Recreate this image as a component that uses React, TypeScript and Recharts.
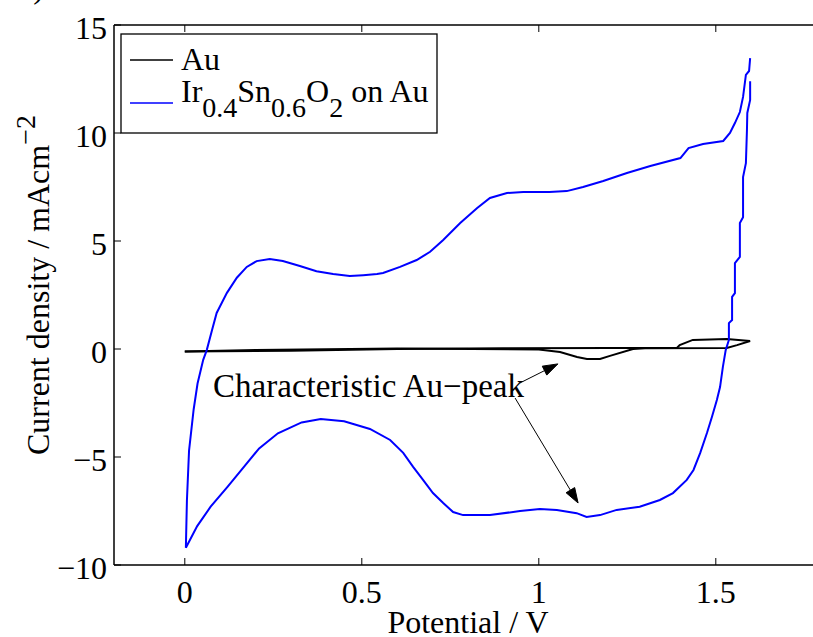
// @ts-nocheck
import React from 'react';
import {
  ComposedChart,
  Line,
  XAxis,
  YAxis,
  ReferenceLine,
  ReferenceDot,
  Customized,
} from 'recharts';

// Au (bare gold) – forward and reverse scan
const auFwdV = [0, 0.3, 0.6, 0.9, 1.2, 1.39, 1.398, 1.435, 1.531, 1.597];
const auFwdJ = [-0.12, -0.08, 0.0, 0.03, 0.05, 0.05, 0.18, 0.42, 0.46, 0.37];
const auRevV = [1.597, 1.56, 1.531, 1.3, 1.266, 1.201, 1.173, 1.136, 1.108, 1.06, 1.0, 0.6, 0.2, 0.0];
const auRevJ = [0.37, 0.18, 0.05, 0.03, 0.0, -0.32, -0.46, -0.46, -0.37, -0.14, -0.02, 0.02, -0.05, -0.12];

// Ir0.4Sn0.6O2 on Au – anodic scan
const irFwdV = [
  0.003, 0.006, 0.012, 0.025, 0.036, 0.052, 0.062, 0.077, 0.09, 0.119, 0.147, 0.175, 0.203, 0.24,
  0.277, 0.325, 0.372, 0.419, 0.466, 0.504, 0.543, 0.56, 0.608, 0.655, 0.693, 0.73, 0.778, 0.826,
  0.862, 0.91, 0.956, 1.03, 1.079, 1.125, 1.182, 1.249, 1.315, 1.4, 1.423, 1.464, 1.521, 1.54,
  1.554, 1.568, 1.577, 1.585, 1.594, 1.597,
];
const irFwdJ = [
  -9.2, -7.0, -4.7, -2.8, -1.6, -0.5, -0.05, 0.88, 1.67, 2.6, 3.3, 3.8, 4.07, 4.17,
  4.07, 3.84, 3.6, 3.47, 3.38, 3.42, 3.47, 3.52, 3.8, 4.12, 4.5, 5.05, 5.83, 6.53,
  6.99, 7.22, 7.27, 7.27, 7.31, 7.5, 7.78, 8.15, 8.47, 8.84, 9.3, 9.49, 9.63, 10.0,
  10.46, 10.97, 11.67, 12.69, 12.87, 13.47,
];

// Ir0.4Sn0.6O2 on Au – cathodic scan
const irRevV = [
  1.597, 1.597, 1.589, 1.588, 1.585, 1.577, 1.577, 1.568, 1.568, 1.554, 1.554, 1.546, 1.546,
  1.537, 1.537, 1.528, 1.52, 1.512, 1.503, 1.489, 1.475, 1.456, 1.437, 1.418, 1.379, 1.342,
  1.285, 1.22, 1.173, 1.135, 1.107, 1.051, 1.003, 0.947, 0.862, 0.786, 0.758, 0.73, 0.701,
  0.673, 0.645, 0.617, 0.58, 0.523, 0.45, 0.384, 0.33, 0.263, 0.21, 0.167, 0.12, 0.073, 0.035, 0.003,
];
const irRevJ = [
  12.4, 11.53, 10.93, 10.14, 8.6, 7.96, 6.1, 5.83, 4.26, 3.98, 2.59, 2.41, 1.34,
  1.2, 0.42, -0.05, -0.83, -1.76, -2.36, -3.15, -3.89, -4.81, -5.6, -6.06, -6.67, -6.99,
  -7.3, -7.45, -7.69, -7.78, -7.6, -7.45, -7.41, -7.5, -7.69, -7.69, -7.55, -7.13, -6.67,
  -6.06, -5.46, -4.81, -4.21, -3.7, -3.35, -3.24, -3.4, -3.9, -4.6, -5.46, -6.4, -7.3, -8.2, -9.2,
];

const xTicks = [0, 0.5, 1, 1.5];
const yTicks = [-10, -5, 0, 5, 10, 15];

// annotation: text anchor and the two arrows (start -> tip), in data units
const noteText = 'Characteristic Au\u2212peak';
const notePos = { v: 0.08, j: -2.2 };
const arrows = [
  [{ x: 0.947, y: -1.57 }, { x: 1.054, y: -0.69 }],
  [{ x: 0.933, y: -2.27 }, { x: 1.111, y: -7.13 }],
];

const toRows = (vs, js) => vs.map((v, i) => ({ v, j: js[i] }));

const FONT = '"Liberation Serif", "Times New Roman", serif';
const fmt = (n) => (n < 0 ? '\u2212' + Math.abs(n) : String(n));

const BottomTick = ({ x, y, payload }) => (
  <g>
    <line x1={x} y1={y} x2={x} y2={y - 7} stroke="#000" strokeWidth={1} />
    <text x={x} y={y + 38} textAnchor="middle" fontFamily={FONT} fontSize={32} fill="#000">
      {fmt(payload.value)}
    </text>
  </g>
);

const TopTick = ({ x, y }) => (
  <line x1={x} y1={y} x2={x} y2={y + 7} stroke="#000" strokeWidth={1} />
);

const LeftTick = ({ x, y, payload }) => (
  <g>
    <line x1={x} y1={y} x2={x + 7} y2={y} stroke="#000" strokeWidth={1} />
    <text x={x - 7} y={y + 14} textAnchor="end" fontFamily={FONT} fontSize={32} fill="#000">
      {fmt(payload.value)}
    </text>
  </g>
);

const RightTick = ({ x, y }) => (
  <line x1={x} y1={y} x2={x - 7} y2={y} stroke="#000" strokeWidth={1} />
);

const XTitle = ({ viewBox }) => (
  <text
    x={viewBox.x + viewBox.width / 2}
    y={viewBox.y + 68}
    textAnchor="middle"
    fontFamily={FONT}
    fontSize={32}
    fill="#000"
  >
    Potential / V
  </text>
);

const YTitle = ({ viewBox }) => {
  const cx = viewBox.x - 64;
  const cy = viewBox.y + viewBox.height / 2 - 10;
  return (
    <text
      x={cx}
      y={cy}
      transform={`rotate(-90, ${cx}, ${cy})`}
      textAnchor="middle"
      fontFamily={FONT}
      fontSize={32}
      fill="#000"
    >
      Current density / mAcm
      <tspan dy={-14} fontSize={28}>{'\u2212'}2</tspan>
    </text>
  );
};

const Arrow = ({ x1, y1, x2, y2 }) => {
  const a = Math.atan2(y2 - y1, x2 - x1);
  const len = 15;
  const w = 5;
  const bx = x2 - len * Math.cos(a);
  const by = y2 - len * Math.sin(a);
  const px = -Math.sin(a) * w;
  const py = Math.cos(a) * w;
  return (
    <g>
      <line x1={x1} y1={y1} x2={bx} y2={by} stroke="#000" strokeWidth={1} />
      <polygon
        points={`${x2},${y2} ${bx + px},${by + py} ${bx - px},${by - py}`}
        fill="#000"
        stroke="#000"
        strokeWidth={1}
      />
    </g>
  );
};

const NoteText = ({ cx, cy }) => (
  <text x={cx} y={cy} fontFamily={FONT} fontSize={33} fill="#000">
    {noteText}
  </text>
);

// legend box drawn straight into the svg, like matlab's inset legend
const LegendBox = () => (
  <g fontFamily={FONT} fontSize={32} fill="#000">
    <text x={44} y={-2} textAnchor="end">a)</text>
    <rect x={121} y={34} width={316} height={99} fill="#fff" stroke="#000" strokeWidth={1.3} />
    <line x1={130} y1={60} x2={173} y2={60} stroke="#000" strokeWidth={1.3} />
    <text x={181} y={70}>Au</text>
    <line x1={130} y1={103} x2={173} y2={103} stroke="#0000ff" strokeWidth={1.5} />
    <text x={181} y={102}>
      Ir
      <tspan dy={15} fontSize={28}>0.4</tspan>
      <tspan dy={-15}>Sn</tspan>
      <tspan dy={15} fontSize={28}>0.6</tspan>
      <tspan dy={-15}>O</tspan>
      <tspan dy={15} fontSize={28}>2</tspan>
      <tspan dy={-15}> on Au</tspan>
    </text>
  </g>
);

export default function App() {
  const auFwd = toRows(auFwdV, auFwdJ);
  const auRev = toRows(auRevV, auRevJ);
  const irFwd = toRows(irFwdV, irFwdJ);
  const irRev = toRows(irRevV, irRevJ);

  return (
    <div
      style={{
        position: 'fixed',
        left: 0,
        top: 0,
        width: 813,
        height: 637,
        overflow: 'hidden',
        background: '#fff',
      }}
    >
      <ComposedChart width={840} height={637} margin={{ top: 24, right: 17, bottom: 71, left: 113 }}>
        <XAxis
          xAxisId="b"
          dataKey="v"
          type="number"
          domain={[-0.2, 1.8]}
          ticks={xTicks}
          allowDataOverflow
          height={1}
          tickSize={0}
          tickMargin={0}
          tickLine={false}
          tick={<BottomTick />}
          axisLine={{ stroke: '#000', strokeWidth: 1.5 }}
          label={<XTitle />}
        />
        <XAxis
          xAxisId="t"
          orientation="top"
          dataKey="v"
          type="number"
          domain={[-0.2, 1.8]}
          ticks={xTicks}
          allowDataOverflow
          height={1}
          tickSize={0}
          tickMargin={0}
          tickLine={false}
          tick={<TopTick />}
          axisLine={{ stroke: '#000', strokeWidth: 1.5 }}
        />
        <YAxis
          yAxisId="l"
          type="number"
          domain={[-10, 15]}
          ticks={yTicks}
          allowDataOverflow
          width={1}
          tickSize={0}
          tickMargin={0}
          tickLine={false}
          tick={<LeftTick />}
          axisLine={{ stroke: '#000', strokeWidth: 1.5 }}
          label={<YTitle />}
        />
        <YAxis
          yAxisId="r"
          orientation="right"
          type="number"
          domain={[-10, 15]}
          ticks={yTicks}
          allowDataOverflow
          width={1}
          tickSize={0}
          tickMargin={0}
          tickLine={false}
          tick={<RightTick />}
          axisLine={{ stroke: '#000', strokeWidth: 1.5 }}
        />

        <Line xAxisId="b" yAxisId="l" data={auFwd} dataKey="j" type="linear" stroke="#000" strokeWidth={2} dot={false} isAnimationActive={false} />
        <Line xAxisId="b" yAxisId="l" data={auRev} dataKey="j" type="linear" stroke="#000" strokeWidth={2} dot={false} isAnimationActive={false} />
        <Line xAxisId="b" yAxisId="l" data={irFwd} dataKey="j" type="linear" stroke="#0000ff" strokeWidth={2} dot={false} isAnimationActive={false} />
        <Line xAxisId="b" yAxisId="l" data={irRev} dataKey="j" type="linear" stroke="#0000ff" strokeWidth={2} dot={false} isAnimationActive={false} />

        {arrows.map((seg, i) => (
          <ReferenceLine key={i} xAxisId="b" yAxisId="l" segment={seg} shape={(p) => <Arrow {...p} />} />
        ))}
        <ReferenceDot xAxisId="b" yAxisId="l" x={notePos.v} y={notePos.j} r={0} shape={(p) => <NoteText {...p} />} />

        <Customized component={LegendBox} />
      </ComposedChart>
    </div>
  );
}
